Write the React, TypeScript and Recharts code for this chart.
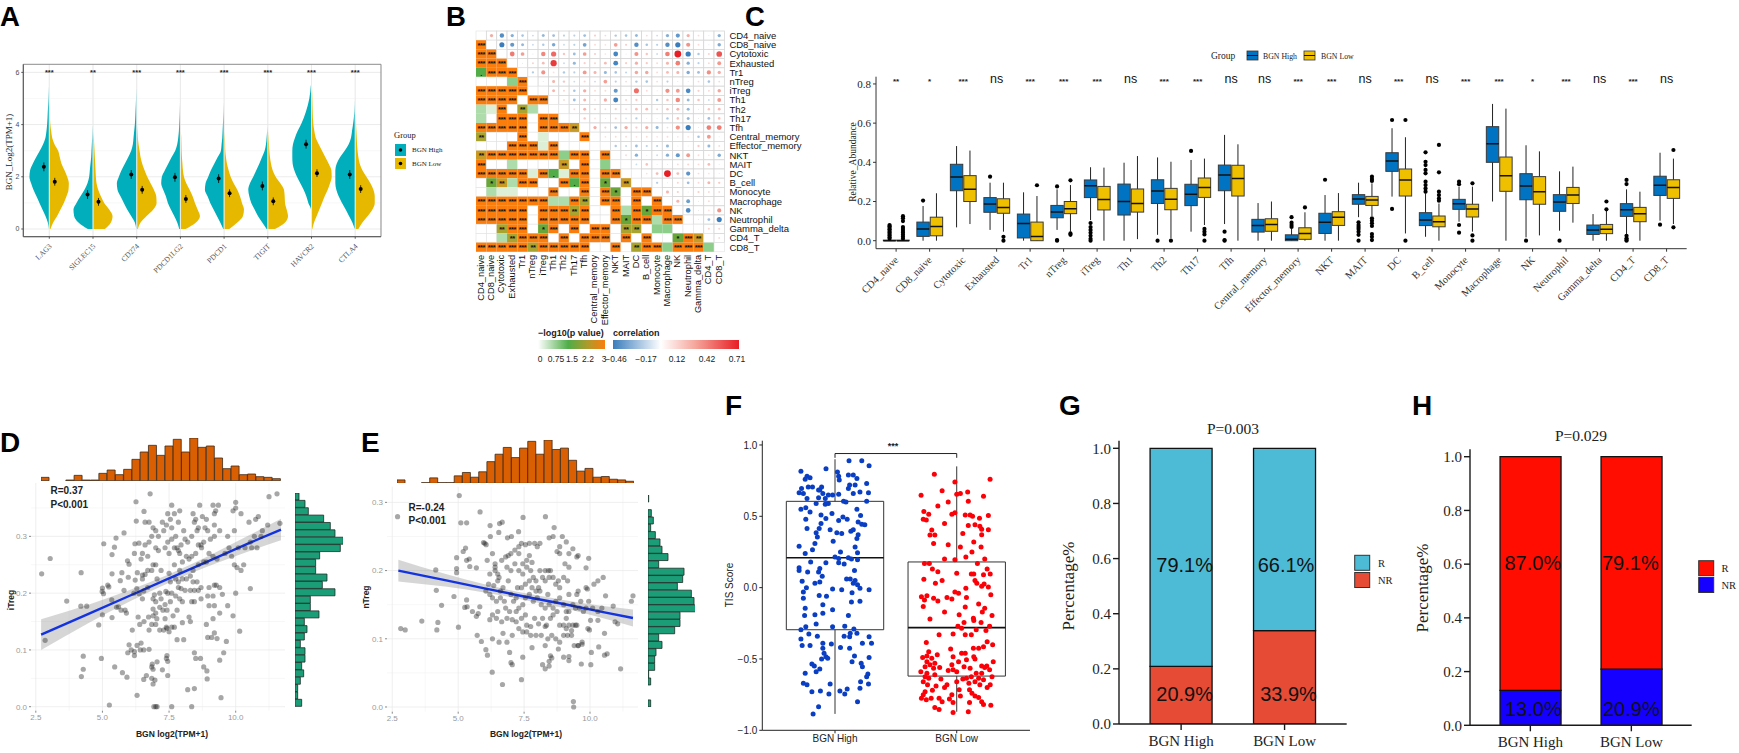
import React from "react"
import {
  Area, Bar, BarChart, CartesianGrid, ComposedChart, Line, ReferenceArea, ReferenceDot, ReferenceLine,
  Scatter, ScatterChart, XAxis, YAxis,
} from "recharts"

const SERIF = "'Liberation Serif', serif"
const SANS = "'Liberation Sans', sans-serif"

// ---------- panel A ----------
const genes = ["LAG3", "SIGLEC15", "CD274", "PDCD1LG2", "PDCD1", "TIGIT", "HAVCR2", "CTLA4"]
const geneStars = ["***", "**", "***", "***", "***", "***", "***", "***"]
const levels = [0, 0.25, 0.5, 0.75, 1, 1.25, 1.5, 1.75, 2, 2.25, 2.5, 2.75, 3, 3.25, 3.5, 3.75, 4, 4.5, 5, 5.5]
const lag3High = [0, 3, 10, 19, 28, 37, 46, 53, 58, 56, 48, 38, 27, 17, 10, 7, 5, 3, 1, 0]
const lag3Low = [2, 10, 22, 32, 42, 50, 56, 57, 52, 44, 35, 30, 25, 14, 7, 4, 1.5, 0, 0, 0]
const siglecHigh = [14, 42, 55, 57, 48, 36, 24, 15, 10, 8, 6, 4, 3, 2, 1, 0.5, 0, 0, 0, 0]
const siglecLow = [34, 52, 57, 47, 32, 22, 14, 9, 7, 6, 5, 4, 3, 2, 1, 0, 0, 0, 0, 0]
const cd274High = [0, 4, 15, 27, 37, 47, 56, 58, 52, 44, 34, 24, 15, 10, 8, 6, 4, 2, 0.5, 0]
const cd274Low = [2, 10, 28, 48, 58, 57, 50, 40, 30, 22, 15, 10, 7, 4, 2, 1, 0, 0, 0, 0]
const pdl2High = [2, 8, 17, 27, 36, 42, 50, 56, 54, 45, 35, 25, 14, 8, 5, 3, 2, 0.5, 0, 0]
const pdl2Low = [14, 45, 57, 50, 42, 35, 26, 16, 9, 6, 4.5, 3, 2, 1.5, 1, 0, 0, 0, 0, 0]
const pdcd1High = [1, 10, 20, 30, 40, 48, 56, 54, 46, 38, 28, 18, 8, 6, 4, 3, 2, 0.5, 0, 0]
const pdcd1Low = [14, 38, 55, 58, 52, 46, 38, 27, 18, 12, 7, 4, 2, 1.5, 1, 0, 0, 0, 0, 0]
const tigitHigh = [2, 15, 28, 38, 48, 54, 57, 52, 42, 33, 24, 16, 8, 4, 2, 0.5, 0, 0, 0, 0]
const tigitLow = [20, 50, 59, 55, 50, 49, 47, 36, 22, 13, 8, 5, 3, 2, 1, 0, 0, 0, 0, 0]
const havcrHigh = [0, 0, 0, 0, 8, 14, 22, 32, 42, 50, 55, 56, 56, 54, 48, 40, 30, 15, 5, 0.5]
const havcrLow = [1, 6, 14, 22, 30, 38, 47, 54, 59, 58, 50, 40, 30, 20, 11, 7, 4, 2, 1, 0]
const ctlaHigh = [0, 7, 17, 27, 38, 48, 55, 58, 58, 58, 54, 44, 30, 18, 11, 8, 5, 1, 0, 0]
const ctlaLow = [8, 20, 36, 50, 57, 57, 53, 44, 32, 20, 12, 8, 5.5, 4, 3, 2, 1, 0, 0, 0]
const densityHigh = [lag3High, siglecHigh, cd274High, pdl2High, pdcd1High, tigitHigh, havcrHigh, ctlaHigh]
const densityLow = [lag3Low, siglecLow, cd274Low, pdl2Low, pdcd1Low, tigitLow, havcrLow, ctlaLow]
const meanHigh = [2.38, 1.32, 2.09, 1.98, 1.93, 1.65, 3.25, 2.09]
const meanLow = [1.81, 1.04, 1.5, 1.15, 1.37, 1.06, 2.14, 1.53]
const DENSITY_UNIT = 1 / 131
const HALF_GAP = 0.012

const violinRows = levels.map((y, i) => {
  const row: any = { y }
  genes.forEach((g, j) => {
    const c = j + 1
    row[g + "_h"] = [c - HALF_GAP - densityHigh[j][i] * DENSITY_UNIT, c - HALF_GAP]
    row[g + "_l"] = [c + HALF_GAP, c + HALF_GAP + densityLow[j][i] * DENSITY_UNIT]
  })
  return row
})
const meanPoints = genes.flatMap((g, j) => [
  { x: j + 1 - 0.125, y: meanHigh[j], err: 0.17 },
  { x: j + 1 + 0.125, y: meanLow[j], err: 0.15 },
])
const geneStarPoints = genes.map((g, j) => ({ x: j + 1, y: 6.03, label: geneStars[j] }))

// ---------- panel B ----------
const cellNames = ["CD4_naive", "CD8_naive", "Cytotoxic", "Exhausted", "Tr1", "nTreg", "iTreg", "Th1", "Th2", "Th17", "Tfh", "Central_memory", "Effector_memory", "NKT", "MAIT", "DC", "B_cell", "Monocyte", "Macrophage", "NK", "Neutrophil", "Gamma_delta", "CD4_T", "CD8_T"]
// lower triangle, one letter per cell: significance class of the pair
const pValueRows = [
  "",
  "O",
  "OO",
  "OOO",
  "gOOO",
  "...cO",
  "OOOOO.",
  "OOOO.OO",
  "baO.ob..",
  "b.OOO.OO.",
  "OOOOO.OOOm",
  "o...O.a...O",
  "...OOOaO....",
  "mOOOOOOOcOO.O",
  "O..b....m.O.c.",
  "OOOOOaOgaOO.OO.",
  ".smbOO..OgO.s.m.",
  ".baa...O..O.Os.OO",
  "OOOOOOObbOo.OO.O.O",
  "OOOOO.OOOoO..ObOsOO",
  "OOOOO.OOOOO..OsOObOO",
  "..oOO.sO.O.OO.oo.cc..",
  "..boOOO.O.OOO.O.O..sOm",
  "OOOOOoOOOOO..O.oOOcOOOc",
]
// upper triangle, one correlation per cell right of the diagonal
const corrRows = [
  [.15, -.3, -.15, -.08, -.03, -.12, -.1, -.05, -.05, -.1, .05, .03, -.07, -.08, -.12, .03, -.03, -.15, -.25, .14, .03, 0, -.15],
  [-.4, -.25, -.12, -.03, -.07, -.18, -.03, -.05, -.2, .03, .02, .2, .05, -.3, -.08, -.05, -.3, -.42, .25, .03, 0, -.17],
  [.35, .2, 0, .3, .42, .07, -.1, .2, .05, .02, -.35, 0, .25, .07, -.03, .33, .71, -.42, -.07, .04, .5],
  [0, .04, .1, .6, -.03, -.12, .05, .04, .1, -.35, .05, .14, .06, .03, .12, .33, -.15, -.05, .03, .22],
  [-.06, .25, .02, -.07, -.05, .22, .12, -.12, -.08, -.04, .17, .17, .03, .1, .12, -.17, -.1, .27, .15],
  [0, .12, .07, -.03, .04, -.03, .2, -.05, .03, -.07, -.08, .03, -.05, 0, 0, .03, -.08, .03],
  [.12, .04, -.08, .15, .03, .03, -.25, 0, .4, .03, 0, .27, .22, -.33, .05, .03, .17],
  [.03, -.1, .12, .02, .15, -.37, .04, .06, 0, -.07, .08, .3, -.12, .08, -.03, .22],
  [.03, .12, .04, .03, .05, .03, .09, .1, .04, .08, .12, -.12, 0, .07, .1],
  [.07, .02, 0, .04, -.02, -.06, 0, 0, -.07, .08, -.12, 0, -.1, .08],
  [.15, .05, -.1, .16, .06, .14, -.12, .03, .27, -.4, 0, .33, .35],
  [.02, .03, .03, .02, .03, .02, .03, .02, .02, -.08, .22, 0],
  [-.07, -.04, -.1, -.05, -.05, -.12, 0, 0, .06, -.12, .03],
  [.03, -.15, 0, -.03, -.15, -.25, .22, .03, .02, -.17],
  [-.03, .08, 0, 0, .03, .04, .03, .1, 0],
  [.02, .1, .71, .1, -.27, .03, .02, 0],
  [-.06, 0, .04, -.1, .03, .12, .06],
  [.12, .05, 0, .05, .03, .03],
  [.12, -.22, 0, .03, 0],
  [-.33, 0, .02, .25],
  [0, -.1, -.4],
  [.04, .04],
  [.03],
  [],
]
const pClassFill: any = { O: "#fb7d0c", o: "#a9a32f", m: "#c99a24", s: "#68a63a", g: "#52ad48", c: "#8dce8a", b: "#aedcaa", a: "#deefd8", ".": "#ffffff" }
const pClassMark: any = { O: "***", o: "**", m: "**", s: "*", g: ".", c: "", b: "", a: "", ".": "" }
const matrixCells: any[] = []
cellNames.forEach((_, r) => {
  cellNames.forEach((__, c) => {
    if (c < r) matrixCells.push({ x: c + 1, y: r + 1, cls: pValueRows[r][c] })
    else if (c > r) matrixCells.push({ x: c + 1, y: r + 1, corr: corrRows[r][c - r - 1] })
    else matrixCells.push({ x: c + 1, y: r + 1, cls: "." })
  })
})
const matrixTicks = cellNames.map((_, i) => i + 1)
const CELL_W = 10.35
const CELL_H = 9.2
const hex = (a: number[], b: number[], t: number) => `rgb(${a.map((v, i) => Math.round(v + (b[i] - v) * t)).join(",")})`
const corrColor = (v: number) => {
  if (v < 0) return hex([255, 255, 255], [58, 125, 188], Math.min(1, Math.sqrt(-v / 0.4)))
  const t = v / 0.71
  if (t < 0.4) return hex([255, 255, 255], [241, 140, 128], Math.sqrt(t / 0.4))
  return hex([241, 140, 128], [232, 30, 36], (t - 0.4) / 0.6)
}

// ---------- panel C ----------
const immuneStars = ["**", "*", "***", "ns", "***", "***", "***", "ns", "***", "***", "ns", "ns", "***", "***", "ns", "***", "ns", "***", "***", "*", "***", "ns", "***", "ns"]
// [low whisker, q1, median, q3, high whisker]
const highStats = [
  [0, 0, 0, .003, 0], [0, .022, .06, .095, .177], [.068, .255, .325, .39, .483], [.055, .145, .187, .22, .296],
  [0, .014, .088, .136, .247], [.055, .117, .146, .18, .262], [.105, .22, .281, .31, .375], [0, .131, .2, .289, .398],
  [.03, .19, .254, .311, .425], [.046, .179, .237, .288, .412], [.085, .255, .335, .386, .54], [0, .044, .078, .109, .192],
  [0, 0, .007, .03, .06], [0, .037, .094, .14, .233], [.12, .186, .213, .235, .296], [.225, .354, .407, .449, .574],
  [.02, .077, .106, .143, .242], [.097, .16, .189, .211, .276], [.2, .4, .495, .582, .698], [.017, .209, .279, .342, .487],
  [.051, .15, .197, .235, .354], [0, .032, .054, .08, .136], [.034, .124, .158, .189, .262], [.102, .231, .283, .329, .449],
]
const lowStats = [
  [0, 0, 0, .003, 0], [0, .025, .073, .12, .242], [.085, .2, .262, .332, .46], [.046, .14, .17, .214, .296],
  [0, 0, .022, .095, .228], [.046, .138, .163, .2, .284], [0, .157, .21, .277, .373], [.008, .146, .19, .264, .432],
  [.012, .158, .211, .267, .403], [.08, .221, .272, .32, .419], [0, .228, .317, .385, .492], [0, .048, .083, .112, .2],
  [0, .007, .037, .066, .145], [0, .078, .12, .148, .243], [.126, .18, .208, .226, .293], [.037, .228, .31, .366, .528],
  [0, .071, .097, .126, .19], [.046, .121, .162, .186, .276], [0, .252, .332, .427, .674], [.027, .186, .25, .327, .456],
  [.092, .19, .233, .272, .378], [0, .036, .058, .083, .165], [0, .097, .138, .17, .25], [.085, .216, .271, .311, .419],
]
const highOutliers = [
  [.01, .018, .026, .034, .042, .05, .058, .066, .074, .08], [.205], [], [.327], [], [.277, .003, 0], [.09, .07, .055, .04, .025, .01, 0], [],
  [0], [.458], [.046, .003, 0], [], [.12, .092, .08, .07], [.311], [.094, .08, .07, .06, .046, .03, 0], [.616, .162],
  [.451, .403, .386, .361, .344, .301, .284, .267, .25], [.301, .288, .08, .041], [], [0], [0], [], [.31, .289, .025, .012, .004, 0], [.082],
]
const lowOutliers = [
  [.01, .02, .03, .04, .05, .06, .07, .1, .115, .125], [], [], [.02, 0], [.283], [.308, .037, .03], [], [],
  [0], [.06, .046, .032, 0], [], [], [.17], [], [.327, .315, .305, .114, .102, .089, .075, .034, .02, .003], [.616, 0],
  [.489, .349, .25, .233, .216, .204], [.293, .027, 0], [], [], [], [.2, .16], [], [.463, .068],
]
const C_DOMAIN = [-0.0408, 0.837]
const C_PLOT_H = 172
const C_PX = C_PLOT_H / (C_DOMAIN[1] - C_DOMAIN[0])
const boxRows = cellNames.map((name, i) => ({
  name,
  high: [highStats[i][1], highStats[i][3]],
  low: [lowStats[i][1], lowStats[i][3]],
  sig: 0.818,
}))

// ---------- panels D, E ----------
const histCounts = [2.5, 0, 0, .5, 4, .5, .5, 5.5, 8, 4.5, 8.5, 16, 21.5, 26.5, 19, 26, 31, 21.5, 32, 25, 26, 17, 9, 11, 4.5, 5, 3, 2.5, 1.5]
const itregHist = [3, 7.5, 10, 21.5, 26.5, 30, 36.25, 34, 18.5, 15.5, 15.5, 24, 20.5, 30, 11.5, 11.5, 18, 7, 9, 7, 4, 7.5, 7.5, 5, 6.5, 4, 2, 2, 5]
const ntregHist = [.5, 0, 2.5, 4, 2, 5.5, 9, 10.5, 15, 8, 27, 26, 22, 32.5, 34.5, 35.75, 24, 24, 20, 8, 10.5, 6, 5, 5, .5, 2, 0, 0, 2]
const toPoints = (flat: number[]) => {
  const out: any[] = []
  for (let i = 0; i < flat.length; i += 2) out.push({ x: flat[i], y: flat[i + 1] })
  return out
}
const itregPoints = toPoints([
  2.72,.234, 3.04,.261, 2.85,.117, 3.66,.186, 4.2,.236, 4.19,.177, 4.41,.177, 4.28,.089, 4.28,.066, 4.21,.053, 4.86,.144, 4.96,.085, 5,.162, 5.05,.287, 5.26,.003, 5.46,.07,
  5,.209, 5.2,.214, 5.24,.211, 4.99,.203, 5.04,.199, 5.35,.188, 5.45,.281, 5.36,.268, 5.51,.297, 5.36,.234, 5.81,.306, 5.73,.236, 5.97,.228, 5.67,.222, 5.81,.205, 6,.251, 5.94,.257,
  6.26,.361, 6.79,.375, 6.56,.344, 6.27,.327, 6.22,.287, 6.37,.288, 6.2,.27, 6.45,.26, 6.31,.236, 6.5,.232, 6.6,.233, 6.23,.223, 6.18,.2, 6.29,.208, 6.38,.199, 6.5,.19, 6.55,.204,
  5.6,.176, 5.7,.17, 5.85,.17, 5.9,.165, 5.53,.175, 5.36,.157, 6.34,.158, 6.12,.135, 6.4,.145, 6.56,.15, 6.73,.158, 6.9,.16, 7,.165, 7.15,.175, 7.27,.17, 7.04,.155, 6.85,.145, 7.35,.155,
  6,.109, 6.08,.1, 6.2,.097, 6.3,.108, 6.45,.112, 6.55,.1, 6.42,.1, 5.95,.095, 6.2,.09, 6.75,.101, 7.05,.079, 6.85,.07, 6.87,.075, 6.9,.066, 7.25,.065, 6.65,.055, 6.55,.048, 6.85,.05, 6.97,.047, 6.9,.04,
  7.45,.055, 5.75,.06, 5.92,.052, 6.3,.02, 7.4,.085, 7.42,.09, 7.45,.08, 6.93,0, 7,0, 7.05,0, 7.6,0, 8.35,0, 8.2,.03, 8.45,.032, 9.45,.016, 8.5,.085, 8.45,.095, 8.68,.085, 8.8,.07, 8.92,.063, 8.93,.049,
  9.4,.082, 9.55,.095, 9.65,.115, 9.1,.122, 9.2,.13, 9.3,.12, 8.95,.122, 7.6,.14, 7.4,.14, 7.42,.138, 7.3,.135, 7.5,.132, 7.7,.14, 7.8,.118, 8.05,.118, 8,.148, 8.25,.158, 8.3,.15, 7.15,.135, 6.75,.135, 7,.145,
  8.9,.145, 9.15,.155, 10.15,.133, 9.9,.16, 9.7,.178, 9.4,.165, 9,.178, 9.2,.178, 10,.2, 10.55,.208, 9.5,.198, 9.4,.21, 9.2,.214, 9.27,.214, 9,.21, 8.95,.195, 9.15,.195, 8.7,.21, 8.6,.205, 8.45,.205, 8.3,.205,
  8.1,.205, 7.95,.208, 7.85,.21, 7.6,.2, 7.45,.2, 7.38,.203, 7.15,.2, 6.95,.197, 6.9,.19, 7,.185, 7.2,.19, 7.55,.185, 7.75,.195, 8,.185, 8.35,.185, 8.45,.185, 8.7,.19, 7.35,.18, 6.9,.172, 7.42,.17, 7.8,.17, 7.65,.16,
  6.6,.325, 6.75,.325, 6.9,.315, 7,.31, 7.1,.3, 6.85,.3, 6.75,.29, 6.6,.285, 7,.28, 7.1,.275, 7.25,.325, 7.4,.32, 7.3,.31, 7.45,.34, 7.55,.33, 7.6,.355, 7.7,.34, 7.9,.345, 7.85,.325, 7.6,.315, 7.75,.3, 7.6,.295,
  7.45,.29, 7.35,.28, 7.5,.27, 7.7,.28, 7.8,.28, 7.85,.275, 7.9,.27, 7.95,.285, 8.05,.31, 8.1,.295, 8.2,.29, 8.35,.3, 8.4,.34, 8.45,.325, 8.5,.33, 8.6,.315, 8.55,.31, 8.65,.355, 8.75,.335, 8.9,.33, 8.85,.315, 8.95,.31,
  9.05,.295, 9.2,.3, 9.4,.31, 9.2,.32, 9.15,.355, 9.25,.345, 9.35,.355, 9.2,.34, 8.7,.285, 8.72,.28, 8.8,.29, 8.6,.285, 8.5,.27, 8.35,.265, 8.15,.265, 8.25,.26, 8,.255, 7.9,.24, 7.7,.25, 8.4,.24, 8.6,.25, 8.8,.255, 8.9,.255,
  9,.27, 9.15,.265, 9.3,.26, 9.6,.27, 9.75,.28, 9.85,.265, 10.05,.245, 9.95,.25, 10.3,.25, 10.2,.24, 9.7,.3, 9.95,.31, 10.1,.28, 10.35,.28, 10,.35, 10,.36, 9.9,.345, 10.2,.34, 10.5,.325, 10.75,.33, 10.85,.335, 10.55,.29, 10.7,.3,
  10.95,.3, 11,.31, 11.2,.32, 11.25,.37, 11.55,.375, 11.66,.323, 10.8,.28, 10.6,.28, 6.5,.27, 6.7,.265, 6.9,.25, 7,.25, 6.85,.24, 6.7,.24, 6.5,.225, 6.7,.21, 7.05,.225, 7.2,.24, 7.5,.235, 7.55,.22, 7.75,.225, 7.85,.22, 8,.225, 8.15,.225, 8.3,.23, 8.4,.22, 8.55,.22, 7.9,.19,
])
const ntregPoints = toPoints([
  2.7,.279, 5.04,.31, 5.1,.27, 5.32,.27, 5.83,.286, 7.46,.278, 8.31,.279, 8.64,.263, 6.21,.266, 6.57,.269, 6.67,.271, 7.29,.257, 6.54,.256, 6.22,.25, 6.87,.248, 7.02,.25, 5.96,.241, 6.01,.24, 6.06,.238,
  2.82,.115, 2.99,.113, 3.62,.126, 4.19,.113, 4.23,.124, 4.15,.201, 4.17,.171, 4.37,.149, 4.84,.162, 5.01,.117, 4.94,.219, 4.94,.203, 4.94,.197, 5.19,.228, 5.28,.233, 5.32,.215, 5.42,.217, 5.44,.206, 5.69,.204,
  5.32,.157, 5.25,.146, 5.34,.147, 5.54,.14, 5.69,.133, 5.76,.137, 5.82,.147, 5.72,.105, 5.88,.096, 6.05,.084, 6.11,.076, 6.29,.051, 6.68,.033, 7.4,.04, 9.37,.008, 9.38,0, 11.16,.056, 9.67,.063, 10.03,.062,
  11.57,.155, 11.63,.163, 10.59,.163, 10.88,.148, 10.95,.125, 11.05,.122, 10.55,.108, 10.3,.127, 10.02,.127, 9.92,.115, 9.98,.113, 10.33,.088, 10.05,.08, 10.55,.076, 10.65,.078, 9.55,.09, 9.7,.092, 9.7,.095,
  6.2,.195, 6.4,.2, 6.5,.185, 6.35,.178, 6.55,.19, 6.7,.175, 6.85,.205, 7,.2, 7.15,.21, 7.3,.2, 7.45,.195, 7.6,.205, 7.75,.2, 7.85,.19, 7.95,.185, 8.1,.2, 8.3,.2, 8.42,.2, 8.5,.2, 8.45,.19, 8.3,.185, 8.2,.19, 8.05,.175, 7.95,.17,
  7.8,.175, 8.1,.17, 8.4,.165, 8.6,.19, 8.7,.18, 8.8,.185, 8.85,.175, 9,.19, 9.15,.185, 9.2,.165, 9.5,.165, 9.65,.155, 9.55,.17, 9.9,.173, 9.85,.175, 9.95,.155, 10.15,.18, 10.3,.185, 10.5,.19, 9.85,.204, 9.95,.218, 9.5,.22,
  6.15,.18, 6.05,.17, 6.3,.16, 6.45,.155, 6.6,.16, 6.75,.155, 6.8,.145, 7,.165, 7.1,.155, 7.2,.16, 7.3,.145, 7.45,.15, 7.55,.16, 7.7,.165, 7.85,.155, 8,.16, 8.15,.15, 8.3,.145, 8.45,.15, 8.6,.145, 8.7,.155, 8.85,.16, 9,.15, 9.1,.14,
  9.2,.14, 9.35,.15, 9.45,.145, 9.6,.145, 9.75,.14, 9.85,.145, 10.1,.145, 10.3,.14, 10.45,.145, 6.2,.128, 6.45,.13, 6.5,.14, 6.65,.125, 6.85,.13, 7.05,.128, 7.2,.125, 7.4,.13, 7.55,.135, 7.6,.12, 7.75,.118, 7.9,.13, 8.05,.122,
  8.2,.13, 8.3,.118, 8.35,.12, 8.5,.13, 8.6,.135, 8.75,.14, 8.85,.12, 9,.12, 9.1,.13, 9.2,.12, 9.3,.112, 9.35,.12, 9.5,.12, 9.45,.12, 6.3,.1, 6.55,.095, 6.7,.108, 6.85,.095, 7.05,.105, 7.3,.115, 7.45,.11, 7.6,.11, 7.75,.105,
  7.95,.105, 8.15,.105, 8.3,.09, 8.4,.1, 8.55,.105, 8.7,.1, 8.85,.095, 9,.105, 9.1,.115, 9.15,.105, 9.3,.105, 9.4,.09, 9.55,.09, 8.8,.085, 7.8,.087, 6.95,.08, 7,.065, 7.05,.062, 7.45,.073, 8.2,.062, 8.3,.056, 8.45,.06, 8.45,.067, 8.5,.075, 8.55,.072, 9,.073, 9.2,.074, 9.2,.068,
  6.4,.205, 6.65,.215, 6.5,.195, 6.8,.22, 6.9,.222, 7,.225, 7.15,.23, 7.3,.225, 7.45,.21, 7.6,.215, 7.7,.222, 7.8,.212, 7.3,.235, 7.4,.24, 7.55,.238, 7.7,.24, 7.9,.24, 8.1,.24, 8,.235, 8.45,.248, 8.6,.25, 8.75,.228, 8.85,.235, 8.95,.25, 9.1,.242, 9.2,.225, 9.35,.232, 9.55,.222, 8.85,.225, 9.2,.205, 9.05,.21,
  6.1,.215, 6.3,.225, 6.4,.21, 7.7,.185, 7.55,.18, 7.4,.175, 7.25,.175, 6.9,.185, 6.6,.17, 7.2,.14, 6.95,.14, 6.2,.165, 6.3,.135,
])
const fitXD = [2.7, 4.5, 6, 7.5, 9, 10.5, 11.7]
const fitYD = [.127, .164, .195, .226, .257, .288, .312]
const fitLoD = [.1, .148, .185, .2185, .248, .274, .293]
const fitHiD = [.154, .18, .205, .2335, .266, .302, .331]
const fitXE = [2.73, 4.5, 6, 7.5, 9, 10.5, 11.63]
const fitYE = [.2, .186, .174, .162, .151, .139, .1305]
const fitLoE = [.184, .1765, .168, .157, .145, .13, .118]
const fitHiE = [.216, .1955, .18, .167, .157, .148, .143]
const fitRows = (xs: number[], ys: number[], lo: number[], hi: number[]) =>
  xs.map((x, i) => ({ x, fit: ys[i], band: [lo[i], hi[i]] }))

// ---------- panel F ----------
const tisHigh = toPoints([
  1.115,.89, 1.22,.89, 1.28,.855, .926,.834, .72,.815, 1.02,.81, .77,.78, .755,.76, .795,.77, 1.035,.755, 1.03,.78, 1.11,.79, 1.15,.79, 1.18,.765, 1.165,.72, 1.12,.72, 1.26,.73, .78,.705, .815,.705, .725,.695, .705,.665, .74,.66,
  .89,.705, .875,.685, .865,.685, .9,.66, .945,.65, .98,.65, 1.03,.655, 1.11,.695, 1.15,.66, 1.205,.67, 1.275,.665, .77,.625, .865,.63, .92,.625, 1.07,.605, 1.09,.6, 1.26,.605, .845,.59, .92,.585, .945,.59,
  .72,.55, .76,.56, .795,.53, 1.18,.55, .975,.52, .885,.51, 1.21,.505, .76,.48, .925,.485, 1.03,.47, 1.065,.495, 1.1,.48, 1.19,.46, 1.22,.445, 1.245,.44, .885,.45, .77,.415, .87,.415, .96,.405, 1.015,.385, 1.055,.38, 1.13,.395, 1.15,.405, 1.19,.37, 1.18,.345,
  .845,.385, .855,.355, .985,.325, .835,.31, .705,.29, 1.165,.285, .755,.24, .815,.265, 1.045,.25, 1.185,.245, 1,.215, 1.03,.205, 1.11,.21, 1.135,.2, 1.185,.195, .8,.18, .925,.175, 1.03,.175, 1.075,.165, .705,.14, .705,.12, .775,.11, .875,.135, .865,.11, 1.16,.12,
  .895,.08, 1.095,.06, 1.125,.06, 1.165,.05, .73,.045, .835,.03, .875,.04, 1.185,.02, 1.205,-.005, 1.15,.03, .765,0, .74,-.03, 1.055,-.015, .98,-.01, 1.28,-.015, .74,-.075, .87,-.055, .93,-.06, 1.14,-.035, 1.205,-.095, 1.135,-.1, .9,-.12, .755,-.145, .75,-.195, .835,-.19, .9,-.18, .98,-.155, 1.11,-.195,
  .72,-.295, .76,-.275, .845,-.255, .98,-.275, 1.08,-.27, 1.155,-.29, .785,-.325, .855,-.34, .72,-.36, 1.125,-.32, 1.075,-.34, 1.12,-.345, 1.18,-.32, 1.28,-.345, .73,-.405, .795,-.405, .9,-.39, .97,-.395, 1.225,-.39, 1.3,-.39, 1.045,-.42, 1.12,-.425, .9,-.425, .91,-.46, .925,-.485, .94,-.495, .89,-.5, 1.16,-.48, 1.28,-.49,
  1.14,-.52, 1.215,-.53, 1.225,-.555, .81,-.535, .83,-.55, .875,-.57, .845,-.59, .755,-.6, 1.27,-.605, 1.26,-.625, .74,-.67, .77,-.68, 1.21,-.66, 1.275,-.675, .96,-.675, 1.205,-.705, .81,-.73, .88,-.725, .95,-.745, 1.04,-.725, 1.1,-.71, 1.08,-.745, 1.185,-.8, .865,-.835, .82,-.885,
])
const tisLow = toPoints([
  1.816,.794, 1.707,.647, 1.73,.533, 1.77,.514, 1.725,.479, 1.75,.474, 1.845,.572, 1.795,.404, 1.82,.369, 1.78,.369, 1.81,.31, 1.735,.17, 1.775,.17, 1.8,.13, 1.845,.112, 1.73,.058, 1.825,.03, 1.71,-.063, 1.755,-.056, 1.735,-.086, 1.725,-.133, 1.81,-.075, 1.845,-.093, 1.78,-.22, 1.855,-.33, 1.75,-.385,
  1.755,-.48, 1.795,-.495, 1.755,-.52, 1.82,-.53, 1.78,-.54, 1.74,-.555, 1.81,-.565, 1.705,-.59, 1.755,-.6, 1.82,-.61, 1.74,-.625, 1.725,-.66, 1.77,-.635, 1.76,-.68, 1.74,-.73, 1.725,-.75, 1.71,-.775, 1.75,-.785, 1.79,-.775, 1.82,-.84, 1.855,-.855, 1.855,-.775,
  2.274,.76, 1.985,.74, 2.09,.67, 2,.655, 2.03,.66, 2.22,.64, 2.095,.605, 2.07,.51, 2.11,.51, 2.13,.5, 2.187,.486, 2.26,.505, 1.985,.525, 1.96,.515, 2.095,.435, 2.15,.44, 2.19,.43, 2.205,.41, 2.26,.405, 2.205,.37, 2.14,.32, 2.2,.285, 2.03,.285, 2.125,.25, 2.075,.215, 1.985,.195,
  2.25,.13, 2.12,.095, 2.14,.095, 2.22,.09, 2.275,.095, 2.15,.05, 2.165,.03, 2.205,.01, 2.225,.025, 2.26,.005, 2.075,-.005, 1.985,-.03, 2.015,-.04, 1.96,-.08, 2.28,-.05, 2.08,-.07, 2.18,-.115, 2.23,-.145, 2.21,-.17, 2.07,-.135, 2.02,-.19, 2.137,-.215, 2.14,-.23, 2.06,-.245, 2.2,-.245, 2.29,-.195, 2.04,-.285, 2.16,-.295, 2.07,-.33, 1.97,-.325,
  2.25,-.38, 2.22,-.415, 2.295,-.4, 2.137,-.425, 2.18,-.425, 2.07,-.46, 2.04,-.46, 1.97,-.485, 2.14,-.485, 2.08,-.505, 2.15,-.5, 2.015,-.52, 2.205,-.55, 2.247,-.55, 2.27,-.575, 1.96,-.54, 2.06,-.555, 2.11,-.565, 2,-.59, 1.97,-.575, 2.205,-.6, 2.29,-.625, 2.12,-.625, 2.08,-.635, 2.18,-.635, 2.22,-.645, 2.15,-.66, 2.19,-.68, 2.275,-.68,
  2.105,-.715, 2.02,-.715, 2.125,-.74, 2.15,-.76, 2.18,-.77, 1.96,-.75, 2.205,-.8, 2.22,-.82, 2.28,-.825, 2.105,-.805, 1.97,-.805, 2.095,-.87, 1.97,-.875,
  1.72,-.49, 1.77,-.45, 1.84,-.47, 1.86,-.56, 1.87,-.64, 1.9,-.7, 1.83,-.69, 1.8,-.72, 1.88,-.8, 1.93,-.58, 1.92,-.68, 1.94,-.78, 2,-.66, 2.05,-.64, 2.03,-.76, 2.1,-.67, 2.16,-.6, 2.23,-.56, 2.25,-.7, 2.3,-.52,
  1.9,.2, 1.88,.05, 1.92,-.07, 1.9,-.17, 1.93,.3, 1.9,.45, 1.93,.6, 1.88,.68, 2,.1, 2.05,.38, 2.01,-.27, 1.95,-.43, 2.17,.17, 2.23,.2, 2.12,-.33, 2.24,-.3, 2.27,-.27,
])
const tisGroups = ["BGN High", "BGN Low"]
// [low whisker, q1, median, q3, high whisker]
const tisBoxes = [[-.885, -.295, .21, .605, .9], [-.87, -.62, -.28, .18, .85]]

// ---------- panels G, H ----------
const responseGroups = ["BGN High", "BGN Low"]
const gResponders = [.791, .661]
const gNonResponders = [.209, .339]
const hResponders = [.87, .791]
const hNonResponders = [.13, .209]
const gRows = responseGroups.map((name, i) => ({ name, NR: gNonResponders[i], R: gResponders[i] }))
const hRows = responseGroups.map((name, i) => ({ name, NR: hNonResponders[i], R: hResponders[i] }))

// ---------- small helpers ----------
const Place = ({ l, t, children }: any) => <div style={{ position: "absolute", left: l, top: t }}>{children}</div>

const Txt = ({ x, y, size = 10, font = SANS, bold = false, anchor = "start", rot, fill = "#000", children }: any) => (
  <text x={x} y={y} fontSize={size} fontFamily={font} fontWeight={bold ? 700 : 400} textAnchor={anchor} fill={fill}
    transform={rot ? `rotate(${rot} ${x} ${y})` : undefined}>{children}</text>
)

const AngleTick = ({ x, y, payload, labels, size, fill = "#333", dy = 8 }: any) => {
  const text = labels ? labels[payload.value - 1] : payload.value
  return (
    <text x={x + 3} y={y + dy} fontSize={size} fontFamily={SERIF} fill={fill} textAnchor="end"
      transform={`rotate(-45 ${x + 3} ${y + dy})`}>{text}</text>
  )
}

const BoxMark = ({ x, y, width, stat, outliers }: any) => {
  const [lo, q1, med, q3, hi] = stat
  const yOf = (v: number) => y + (q3 - v) * C_PX
  const cx = x + width / 2
  return (
    <g>
      <line x1={cx} x2={cx} y1={yOf(hi)} y2={yOf(lo)} stroke="#222" strokeWidth={1} />
      <rect x={x} y={yOf(q3)} width={width} height={yOf(q1) - yOf(q3)} fill="inherit" stroke="#3a3a3a" strokeWidth={1} />
      <line x1={x} x2={x + width} y1={yOf(med)} y2={yOf(med)} stroke="#111" strokeWidth={1.5} />
      {outliers.map((v: number, i: number) => <circle key={i} cx={cx} cy={yOf(v)} r={2.1} fill="#000" />)}
    </g>
  )
}

const SigLabel = ({ x, y, index }: any) => {
  const s = immuneStars[index]
  return s === "ns"
    ? <text x={x} y={y + 3} fontSize={12.5} fontFamily={SANS} textAnchor="middle" fill="#111">ns</text>
    : <text x={x} y={y + 3.5} fontSize={8} fontWeight={700} fontFamily={SANS} textAnchor="middle" fill="#222">{s}</text>
}

const MatrixCell = ({ cx, cy, payload }: any) => {
  const x = cx - CELL_W / 2
  const y = cy - CELL_H / 2
  if (payload.corr !== undefined) {
    const r = 0.5 + 2.9 * Math.pow(Math.abs(payload.corr) / 0.71, 0.6)
    return (
      <g>
        <rect x={x} y={y} width={CELL_W} height={CELL_H} fill="#fff" stroke="#d6d6d6" strokeWidth={0.8} />
        <circle cx={cx} cy={cy} r={r} fill={payload.corr === 0 ? "#e4e4e4" : corrColor(payload.corr)} />
      </g>
    )
  }
  const mark = pClassMark[payload.cls]
  return (
    <g>
      <rect x={x} y={y} width={CELL_W} height={CELL_H} fill={pClassFill[payload.cls]} stroke={payload.cls === "." ? "#e2e2e2" : "none"} strokeWidth={0.6} />
      {mark && <text x={cx} y={cy + 3.2} fontSize={7.5} fontWeight={700} fontFamily={SANS} textAnchor="middle" letterSpacing={-0.4} fill="#111">{mark}</text>}
    </g>
  )
}

const Dot = (p: any) => <circle cx={p.cx} cy={p.cy} r={p.r} fill={p.fill} fillOpacity={p.opacity} />

function CorrPanel({ l, t, width, height, margin, yw, xDomain, yDomain, points, rows }: any) {
  const minorX = [3.75, 6.25, 8.75, 11.25]
  return (
    <Place l={l} t={t}>
      <ComposedChart width={width} height={height} margin={margin}>
        <CartesianGrid stroke="#f2f2f2" strokeWidth={0.6} horizontalValues={[.05, .15, .25, .35]} verticalValues={minorX} />
        <CartesianGrid stroke="#e8e8e8" strokeWidth={0.7} horizontalValues={[0, .1, .2, .3]} verticalValues={[2.5, 5, 7.5, 10]} />
        <XAxis type="number" dataKey="x" domain={xDomain} ticks={[2.5, 5, 7.5, 10]} tickFormatter={(v) => v.toFixed(1)} height={20} allowDataOverflow
          axisLine={false} tickSize={2} tick={{ fontSize: 8, fill: "#9a9a9a", fontFamily: SANS }} stroke="#888" />
        <YAxis type="number" dataKey="y" domain={yDomain} ticks={[0, .1, .2, .3]} tickFormatter={(v) => v.toFixed(1)} width={yw} allowDataOverflow
          axisLine={false} tickSize={2} tick={{ fontSize: 8, fill: "#9a9a9a", fontFamily: SANS }} stroke="#888" />
        <Area data={rows} dataKey="band" stroke="none" fill="#999" fillOpacity={0.4} isAnimationActive={false} type="monotone" />
        <Scatter data={points} isAnimationActive={false} shape={(p: any) => <Dot {...p} r={2.6} fill="#222" opacity={0.4} />} />
        <Line data={rows} dataKey="fit" stroke="#1433e0" strokeWidth={2.4} dot={false} isAnimationActive={false} type="linear" />
      </ComposedChart>
    </Place>
  )
}

function TopHist({ l, t, width, height }: any) {
  const rows = histCounts.map((n, i) => ({ bin: i, n }))
  return (
    <Place l={l} t={t}>
      <BarChart width={width} height={height} data={rows} margin={{ top: 0, right: 0, bottom: 0, left: 0 }} barCategoryGap={0}>
        <XAxis dataKey="bin" hide />
        <YAxis hide domain={[0, 32]} />
        <Bar dataKey="n" fill="#d95f02" stroke="#3a2a1a" strokeWidth={0.8} isAnimationActive={false} />
      </BarChart>
    </Place>
  )
}

function SideHist({ l, t, width, height, counts, max }: any) {
  const rows = counts.map((n: number, i: number) => ({ bin: i, n }))
  return (
    <Place l={l} t={t}>
      <BarChart layout="vertical" width={width} height={height} data={rows} margin={{ top: 0, right: 0, bottom: 0, left: 0 }} barCategoryGap={0}>
        <XAxis type="number" hide domain={[0, max]} />
        <YAxis type="category" dataKey="bin" hide />
        <Bar dataKey="n" fill="#1b9e77" stroke="#1d2b25" strokeWidth={0.8} isAnimationActive={false} />
      </BarChart>
    </Place>
  )
}

function StackPanel({ l, t, width, height, top, rows, colors, pad, labels }: any) {
  const axisStroke = "#1a1a1a"
  return (
    <Place l={l} t={t}>
      <BarChart width={width} height={height} data={rows} margin={{ top, right: 3, bottom: 0, left: 0 }} barCategoryGap="20%">
        <XAxis dataKey="name" height={30} padding={{ left: pad, right: pad }} tickSize={6} tickMargin={5} stroke={axisStroke} strokeWidth={1.4}
          tick={{ fontSize: 15, fontFamily: SERIF, fill: "#222" }} interval={0} />
        <YAxis type="number" domain={[0, 1.0276]} ticks={[0, .2, .4, .6, .8, 1]} tickFormatter={(v) => v.toFixed(1)} width={40} tickSize={6} stroke={axisStroke} strokeWidth={1.4}
          tick={{ fontSize: 15, fontFamily: SERIF, fill: "#222" }} interval={0} allowDataOverflow />
        <Bar dataKey="NR" stackId="a" fill={colors[1]} stroke="#111" strokeWidth={1.3} isAnimationActive={false} />
        <Bar dataKey="R" stackId="a" fill={colors[0]} stroke="#111" strokeWidth={1.3} isAnimationActive={false} />
        {labels.map((d: any) => (
          <ReferenceDot key={d.text} x={d.name} y={d.y} r={0} fill="none" stroke="none"
            label={{ value: d.text, position: "center", fontSize: 20, fontFamily: SANS, fill: "#111", dx: d.dx }} />
        ))}
      </BarChart>
    </Place>
  )
}

const gLabels = [
  { name: "BGN High", y: .577, text: "79.1%", dx: 3.5 }, { name: "BGN Low", y: .577, text: "66.1%", dx: 1.5 },
  { name: "BGN High", y: .109, text: "20.9%", dx: 3.5 }, { name: "BGN Low", y: .109, text: "33.9%", dx: 4 },
]
const hLabels = [
  { name: "BGN High", y: .605, text: "87.0%", dx: 2.5 }, { name: "BGN Low", y: .605, text: "79.1%", dx: -1 },
  { name: "BGN High", y: .062, text: "13.0%", dx: 3 }, { name: "BGN Low", y: .062, text: "20.9%", dx: 0 },
]

export default function App() {
  return (
    <div style={{ position: "absolute", left: 0, top: 0, width: 1739, height: 753, background: "#fff", overflow: "hidden" }}>
      {/* A */}
      <Place l={0} t={50}>
        <ComposedChart layout="vertical" width={385} height={226.7} margin={{ top: 14.3, right: 4, bottom: 0, left: 0 }}>
          <CartesianGrid stroke="#f3f3f3" strokeWidth={0.7} horizontalValues={[1, 3, 5]} verticalValues={[]} />
          <CartesianGrid stroke="#e6e6e6" strokeWidth={0.8} horizontalValues={[0, 2, 4, 6]} verticalValues={[1, 2, 3, 4, 5, 6, 7, 8]} />
          <XAxis type="number" dataKey="x" domain={[0.405, 8.59]} ticks={[1, 2, 3, 4, 5, 6, 7, 8]} interval={0} height={40} tickSize={2} stroke="#555" allowDataOverflow
            tick={<AngleTick labels={genes} size={7.6} dy={6} />} />
          <YAxis type="number" dataKey="y" reversed domain={[-0.295, 6.31]} ticks={[0, 2, 4, 6]} width={23.3} tickSize={2} stroke="#555" allowDataOverflow
            tick={{ fontSize: 7, fill: "#4d4d4d", fontFamily: SANS }} />
          {genes.map((g) => (
            <Area key={g + "h"} data={violinRows} dataKey={g + "_h"} type="monotone" stroke="none" fill="#00afbb" fillOpacity={1} isAnimationActive={false} />
          ))}
          {genes.map((g) => (
            <Area key={g + "l"} data={violinRows} dataKey={g + "_l"} type="monotone" stroke="none" fill="#e7b800" fillOpacity={1} isAnimationActive={false} />
          ))}
          <Scatter data={meanPoints} isAnimationActive={false} shape={(p: any) => (
            <g>
              <line x1={p.cx} x2={p.cx} y1={p.cy - p.payload.err * 26.1} y2={p.cy + p.payload.err * 26.1} stroke="#000" strokeWidth={0.8} />
              <circle cx={p.cx} cy={p.cy} r={2} fill="#000" />
            </g>
          )} />
          <Scatter data={geneStarPoints} isAnimationActive={false} shape={(p: any) => (
            <text x={p.cx} y={p.cy + 3} fontSize={7.5} fontWeight={700} fontFamily={SANS} textAnchor="middle" fill="#222">{p.payload.label}</text>
          )} />
          <ReferenceArea x1={0.405} x2={8.59} y1={-0.295} y2={6.31} fill="none" stroke="#8c8c8c" strokeWidth={1} />
        </ComposedChart>
      </Place>

      {/* B */}
      <Place l={470} t={20}>
        <ScatterChart width={354.4} height={321.8} margin={{ top: 11, right: 0, bottom: 0, left: 6 }}>
          <XAxis type="number" dataKey="x" domain={[0.5, 24.5]} ticks={matrixTicks} interval={0} height={90} tickLine={false} axisLine={false}
            tick={({ x, y, payload }: any) => (
              <text x={x} y={y - 5} fontSize={9.3} fontFamily={SANS} fill="#111" textAnchor="end" dominantBaseline="middle"
                transform={`rotate(-90 ${x} ${y - 5})`}>{cellNames[payload.value - 1]}</text>
            )} />
          <YAxis type="number" dataKey="y" orientation="right" reversed domain={[0.5, 24.5]} ticks={matrixTicks} interval={0} width={100} tickLine={false} axisLine={false}
            tick={({ x, y, payload }: any) => (
              <text x={x - 3} y={y + 3.5} fontSize={9.5} fontFamily={SANS} fill="#111">{cellNames[payload.value - 1]}</text>
            )} />
          <Scatter data={matrixCells} isAnimationActive={false} shape={(p: any) => <MatrixCell {...p} />} />
        </ScatterChart>
      </Place>

      {/* C */}
      <Place l={820} t={60}>
        <ComposedChart width={870} height={278.7} data={boxRows} margin={{ top: 16.7, right: 3.3, bottom: 0, left: 0 }} barGap={1} barSize={12.4}>
          <XAxis dataKey="name" height={90} interval={0} padding={{ left: 3.35, right: 3.35 }} tickSize={3} stroke="#333" tick={<AngleTick size={10.4} dy={7} />} />
          <YAxis type="number" domain={C_DOMAIN} ticks={[0, .2, .4, .6, .8]} tickFormatter={(v) => v.toFixed(1)} width={56} tickSize={3} stroke="#333" allowDataOverflow
            tick={{ fontSize: 11, fontFamily: SERIF, fill: "#222" }} />
          <Bar dataKey="high" fill="#0073c2" isAnimationActive={false}
            shape={(p: any) => <g fill="#0073c2"><BoxMark {...p} stat={highStats[p.index]} outliers={highOutliers[p.index]} /></g>} />
          <Bar dataKey="low" fill="#efc000" isAnimationActive={false}
            shape={(p: any) => <g fill="#efc000"><BoxMark {...p} stat={lowStats[p.index]} outliers={lowOutliers[p.index]} /></g>} />
          <Line dataKey="sig" stroke="none" dot={false} isAnimationActive={false} label={(p: any) => <SigLabel {...p} />} />
        </ComposedChart>
      </Place>

      {/* D */}
      <CorrPanel l={0} t={470} width={290} height={260.7} margin={{ top: 13, right: 5, bottom: 0, left: 0 }} yw={31}
        xDomain={[2.32, 11.85]} yDomain={[-0.007, 0.394]} points={itregPoints} rows={fitRows(fitXD, fitYD, fitLoD, fitHiD)} />
      <TopHist l={41} t={438} width={239.7} height={42.7} />
      <SideHist l={294.7} t={493.3} width={48.3} height={213.7} counts={itregHist} max={36.25} />

      {/* E */}
      <CorrPanel l={350} t={470} width={293} height={261.7} margin={{ top: 16.7, right: 5, bottom: 0, left: 0 }} yw={37}
        xDomain={[2.3, 11.82]} yDomain={[-0.0069, 0.323]} points={ntregPoints} rows={fitRows(fitXE, fitYE, fitLoE, fitHiE)} />
      <TopHist l={397} t={440} width={237} height={43.3} />
      <SideHist l={647.7} t={495} width={47.7} height={212.3} counts={ntregHist} max={35.75} />

      {/* F */}
      <Place l={720} t={430}>
        <ScatterChart width={315} height={322.3} margin={{ top: 10.7, right: 5, bottom: 0, left: 0 }}>
          <XAxis type="number" dataKey="x" domain={[0.4026, 2.602]} ticks={[1, 2]} tickFormatter={(v) => tisGroups[v - 1]} height={22} tickSize={3} stroke="#222" interval={0}
            tick={{ fontSize: 10, fontFamily: SANS, fill: "#222" }} />
          <YAxis type="number" dataKey="y" domain={[-1, 1.03]} ticks={[-1, -.5, 0, .5, 1]} tickFormatter={(v) => v.toFixed(1).replace("-", "\u2212")} width={42.3} tickSize={3} stroke="#222" interval={0}
            tick={{ fontSize: 10, fontFamily: SANS, fill: "#222" }} allowDataOverflow />
          <Scatter data={tisHigh} isAnimationActive={false} shape={(p: any) => <Dot {...p} r={2.5} fill="#0a3fc4" opacity={1} />} />
          <Scatter data={tisLow} isAnimationActive={false} shape={(p: any) => <Dot {...p} r={2.5} fill="#fb0007" opacity={1} />} />
          {tisBoxes.map((b, i) => {
            const c = i + 1
            return [
              <ReferenceLine key={"w" + i} segment={[{ x: c, y: b[0] }, { x: c, y: b[1] }]} stroke="#333" strokeWidth={1} />,
              <ReferenceLine key={"u" + i} segment={[{ x: c, y: b[3] }, { x: c, y: b[4] }]} stroke="#333" strokeWidth={1} />,
              <ReferenceArea key={"b" + i} x1={c - .4} x2={c + .4} y1={b[1]} y2={b[3]} fill="none" fillOpacity={0} stroke="#333" strokeWidth={1} />,
              <ReferenceLine key={"m" + i} segment={[{ x: c - .4, y: b[2] }, { x: c + .4, y: b[2] }]} stroke="#111" strokeWidth={1.6} />,
            ]
          })}
          <ReferenceLine segment={[{ x: 1, y: .94 }, { x: 2, y: .94 }]} stroke="#222" strokeWidth={1} />
          <ReferenceLine segment={[{ x: 1, y: .94 }, { x: 1, y: .91 }]} stroke="#222" strokeWidth={1} />
          <ReferenceLine segment={[{ x: 2, y: .94 }, { x: 2, y: .91 }]} stroke="#222" strokeWidth={1} />
        </ScatterChart>
      </Place>

      {/* G, H */}
      <StackPanel l={1079.3} t={430} width={270.7} height={324} top={10.7} rows={gRows} colors={["#4dbbd5", "#e64b35"]} pad={10.4} labels={gLabels} />
      <StackPanel l={1430} t={435} width={264.7} height={320.3} top={14.3} rows={hRows} colors={["#ff0d00", "#1500ff"]} pad={9.85} labels={hLabels} />

      {/* free text and legends */}
      <svg width={1739} height={753} style={{ position: "absolute", left: 0, top: 0, pointerEvents: "none" }}>
        <defs>
          <linearGradient id="pGrad" x1="0" x2="1" y1="0" y2="0">
            <stop offset="0%" stopColor="#ffffff" />
            <stop offset="45%" stopColor="#4fad48" />
            <stop offset="75%" stopColor="#b09a2a" />
            <stop offset="100%" stopColor="#fb7d0c" />
          </linearGradient>
          <linearGradient id="corrGrad" x1="0" x2="1" y1="0" y2="0">
            <stop offset="0%" stopColor="#3a7dbc" />
            <stop offset="38%" stopColor="#ffffff" />
            <stop offset="65%" stopColor="#f5a79d" />
            <stop offset="100%" stopColor="#e81e24" />
          </linearGradient>
        </defs>
        <Txt x={0} y={25.5} size={27.5} bold>A</Txt>
        <Txt x={446} y={25.5} size={27.5} bold>B</Txt>
        <Txt x={745} y={26} size={27.5} bold>C</Txt>
        <Txt x={0} y={452} size={28} bold>D</Txt>
        <Txt x={361} y={452} size={28} bold>E</Txt>
        <Txt x={725} y={415} size={28} bold>F</Txt>
        <Txt x={1059} y={415} size={28} bold>G</Txt>
        <Txt x={1412} y={415} size={28} bold>H</Txt>

        <Txt x={12} y={152} size={9} font={SERIF} rot={-90} anchor="middle" fill="#222">BGN_Log2(TPM+1)</Txt>
        <Txt x={394} y={138} size={8.5} font={SERIF} fill="#222">Group</Txt>
        <rect x={395} y={144} width={11} height={12} fill="#00afbb" /><circle cx={400.5} cy={150} r={1.8} fill="#000" />
        <rect x={395} y={158} width={11} height={11} fill="#e7b800" /><circle cx={400.5} cy={163.5} r={1.8} fill="#000" />
        <Txt x={412} y={152} size={7} font={SERIF} fill="#222">BGN High</Txt>
        <Txt x={412} y={165.5} size={7} font={SERIF} fill="#222">BGN Low</Txt>

        <Txt x={538} y={336} size={9} bold fill="#222">&#8722;log10(p value)</Txt>
        <Txt x={613} y={336} size={9} bold fill="#222">correlation</Txt>
        <rect x={538} y={340} width={67} height={9} fill="url(#pGrad)" />
        <rect x={613} y={340} width={126} height={9} fill="url(#corrGrad)" />
        {[["0", 540], ["0.75", 556], ["1.5", 572], ["2.2", 588], ["3", 604]].map(([s, x]: any) => (
          <Txt key={s} x={x} y={362} size={8.5} anchor="middle" fill="#222">{s}</Txt>
        ))}
        {[["\u22120.46", 616], ["\u22120.17", 646], ["0.12", 677], ["0.42", 707], ["0.71", 737]].map(([s, x]: any) => (
          <Txt key={s} x={x} y={362} size={8.5} anchor="middle" fill="#222">{s}</Txt>
        ))}

        <Txt x={856} y={162} size={9.5} font={SERIF} rot={-90} anchor="middle" fill="#222">Relative_Abundance</Txt>
        <Txt x={1211} y={59} size={9.5} font={SERIF} fill="#222">Group</Txt>
        <rect x={1247} y={51} width={11} height={9} fill="#0073c2" stroke="#333" strokeWidth={0.8} /><line x1={1247} x2={1258} y1={55.5} y2={55.5} stroke="#111" />
        <Txt x={1263} y={58.5} size={7.8} font={SERIF} fill="#222">BGN High</Txt>
        <rect x={1304} y={51} width={11} height={9} fill="#efc000" stroke="#333" strokeWidth={0.8} /><line x1={1304} x2={1315} y1={55.5} y2={55.5} stroke="#111" />
        <Txt x={1321} y={58.5} size={7.8} font={SERIF} fill="#222">BGN Low</Txt>

        <Txt x={50.5} y={494} size={10} bold fill="#222">R=0.37</Txt>
        <Txt x={50.5} y={508} size={10} bold fill="#222">P&lt;0.001</Txt>
        <Txt x={14} y={600} size={8.5} bold rot={-90} anchor="middle" fill="#222">iTreg</Txt>
        <Txt x={172} y={737} size={8.5} bold anchor="middle" fill="#222">BGN log2(TPM+1)</Txt>
        <Txt x={408.5} y={511} size={10} bold fill="#222">R=-0.24</Txt>
        <Txt x={408.5} y={523.5} size={10} bold fill="#222">P&lt;0.001</Txt>
        <Txt x={369} y={597} size={8.5} bold rot={-90} anchor="middle" fill="#222">nTreg</Txt>
        <Txt x={526} y={737} size={8.5} bold anchor="middle" fill="#222">BGN log2(TPM+1)</Txt>

        <Txt x={733} y={585} size={10} rot={-90} anchor="middle" fill="#222">TIS Score</Txt>
        <Txt x={893} y={449} size={9} bold anchor="middle" fill="#222">***</Txt>

        <Txt x={1233} y={434} size={15.5} font={SERIF} anchor="middle" fill="#222">P=0.003</Txt>
        <Txt x={1074} y={586} size={17} font={SERIF} rot={-90} anchor="middle" fill="#222">Percentage%</Txt>
        <rect x={1354.7} y={555.3} width={15} height={15} fill="#4dbbd5" stroke="#333" />
        <rect x={1354.7} y={572.5} width={15} height={15} fill="#e64b35" stroke="#333" />
        <Txt x={1378} y={567} size={10.5} font={SERIF} fill="#222">R</Txt>
        <Txt x={1378} y={584} size={10.5} font={SERIF} fill="#222">NR</Txt>

        <Txt x={1581} y={441} size={15.5} font={SERIF} anchor="middle" fill="#222">P=0.029</Txt>
        <Txt x={1428} y={588} size={17} font={SERIF} rot={-90} anchor="middle" fill="#222">Percentage%</Txt>
        <rect x={1698.7} y={560.7} width={15} height={15} fill="#ff0d00" stroke="#333" />
        <rect x={1698.7} y={577.5} width={15} height={15} fill="#1500ff" stroke="#333" />
        <Txt x={1721.5} y={572} size={10.5} font={SERIF} fill="#222">R</Txt>
        <Txt x={1721.5} y={589} size={10.5} font={SERIF} fill="#222">NR</Txt>
      </svg>
    </div>
  )
}
